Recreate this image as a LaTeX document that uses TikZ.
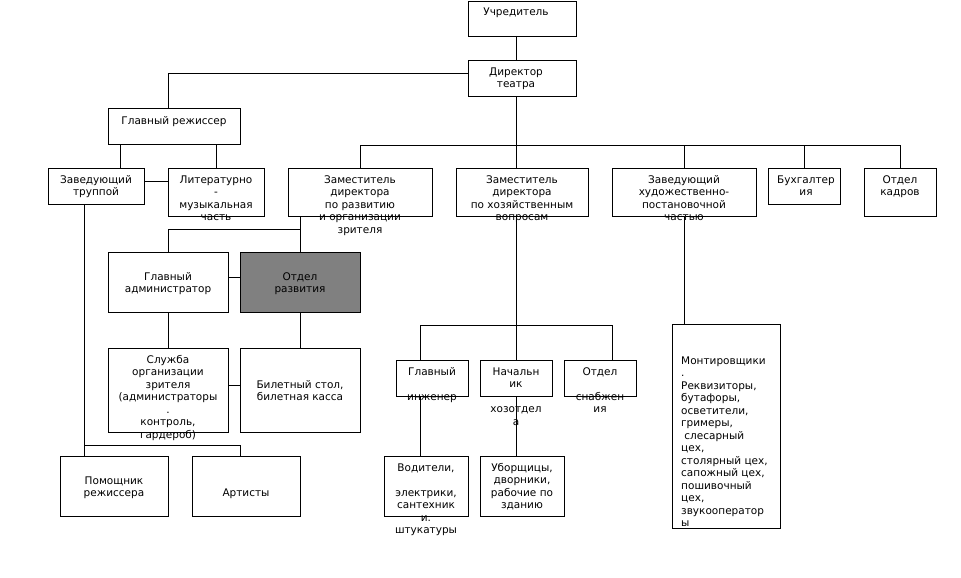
\documentclass[tikz,border=0pt]{standalone}
\usepackage{fontspec}
\setmainfont{DejaVu Sans}
\definecolor{grayfill}{HTML}{808080}
\tikzset{
  box/.style={draw=black, line width=0.9pt, inner sep=0pt, outer sep=0pt, fill=white},
  graybox/.style={fill=grayfill},
  txt/.style={font=\fontsize{10.5}{12.5}\selectfont, inner sep=0pt, anchor=base},
  ltxt/.style={txt, anchor=base west},
  conn/.style={draw=black, line width=0.9pt}
}
\newcommand{\bx}[6][]{\node[box,#1,minimum width={(#5-#3)*1pt},minimum height={(#6-#4)*1pt}] (#2) at ({(#3+#5)/2},{(#4+#6)/2}) {};}
\newcommand{\ml}[1]{\begin{tabular}[t]{@{}c@{}}#1\end{tabular}}
\newcommand{\mll}[1]{\begin{tabular}[t]{@{}l@{}}#1\end{tabular}}
\begin{document}
\begin{tikzpicture}[x=1pt,y=-1pt]
\useasboundingbox[fill=white] (0,0) rectangle (961,578);
\coordinate (c-d) at (468,73);
\coordinate (c-gr) at (168,108);
\coordinate (bus) at (516,145);
\coordinate (bus-l) at (360,145);
\coordinate (bus-r) at (900,145);
\coordinate (c-zr) at (300,229);
\coordinate (c-ga) at (168,252);
\coordinate (c-zt) at (84,445);
\coordinate (c-art) at (240,445);
\coordinate (bus2) at (516,325);
\coordinate (bus2-l) at (420,325);
\coordinate (bus2-r) at (612,325);

% boxes
\bx{u}{468}{1}{576}{36}
\bx{d}{468}{60}{576}{96}
\bx{gr}{108}{108}{240}{144}
\bx{zt}{48}{168}{144}{204}
\bx{lit}{168}{168}{264}{216}
\bx{zr}{288}{168}{432}{216}
\bx{zh}{456}{168}{588}{216}
\bx{zhud}{612}{168}{756}{216}
\bx{buh}{768}{168}{840}{204}
\bx{ok}{864}{168}{936}{216}
\bx{ga}{108}{252}{228}{312}
\bx[graybox]{otd}{240}{252}{360}{312}
\bx{sl}{108}{348}{228}{432}
\bx{bil}{240}{348}{360}{432}
\bx{pom}{60}{456}{168}{516}
\bx{art}{192}{456}{300}{516}
\bx{gi}{396}{360}{468}{396}
\bx{nach}{480}{360}{552}{396}
\bx{os}{564}{360}{636}{396}
\bx{vod}{384}{456}{468}{516}
\bx{ub}{480}{456}{564}{516}
\bx{mont}{672}{324}{780}{528}

% connectors
\draw[conn] (u.south -| bus) -- (d.north -| bus);
\draw[conn] (c-d) -- (c-gr |- c-d) -- (c-gr);
\draw[conn] (d.south -| bus) -- (bus);
\draw[conn] (bus-l) -- (bus-r);
\draw[conn] (bus-l) -- (zr.north);
\draw[conn] (bus) -- (zh.north -| bus);
\draw[conn] (bus -| zhud.north) -- (zhud.north);
\draw[conn] (bus -| buh.north) -- (buh.north);
\draw[conn] (bus-r) -- (ok.north);
\draw[conn] (gr.south -| 120,0) -- (zt.north -| 120,0);
\draw[conn] (gr.south -| lit.north) -- (lit.north);
\draw[conn] (zt.east |- 0,181) -- (lit.west |- 0,181);
\draw[conn] (zr.south -| otd.north) -- (otd.north);
\draw[conn] (c-zr) -- (c-ga |- c-zr) -- (c-ga);
\draw[conn] (ga.east |- 0,277) -- (otd.west |- 0,277);
\draw[conn] (ga.south) -- (sl.north);
\draw[conn] (otd.south) -- (bil.north);
\draw[conn] (sl.east |- 0,385) -- (bil.west |- 0,385);
\draw[conn] (zt.south -| c-zt) -- (pom.north -| c-zt);
\draw[conn] (c-zt) -- (c-art) -- (art.north -| c-art);
\draw[conn] (zh.south -| bus2) -- (bus2);
\draw[conn] (bus2) -- (nach.north);
\draw[conn] (bus2-l) -- (bus2-r);
\draw[conn] (bus2-l) -- (gi.north -| bus2-l);
\draw[conn] (bus2-r) -- (os.north -| bus2-r);
\draw[conn] (gi.south -| bus2-l) -- (vod.north -| bus2-l);
\draw[conn] (nach.south) -- (ub.north -| nach.south);
\draw[conn] (zhud.south) -- (mont.north -| zhud.south);

% texts
\node[txt] (t-u) at (516,16) {Учредитель};
\node[txt] (t-d) at (516,75) {\ml{Директор\\театра}};
\node[txt] (t-gr) at (174,124) {Главный режиссер};
\node[txt] (t-zt) at (96,183) {\ml{Заведующий\\труппой}};
\node[txt] (t-lit) at (216,183) {\ml{Литературно\\-\\музыкальная\\часть}};
\node[txt] (t-zr) at (360,183) {\ml{Заместитель\\директора\\по развитию\\и организации\\зрителя}};
\node[txt] (t-zh) at (522,183) {\ml{Заместитель\\директора\\по хозяйственным\\вопросам}};
\node[txt] (t-zhud) at (684,183) {\ml{Заведующий\\художественно-\\постановочной\\частью}};
\node[txt] (t-buh) at (806,183) {\ml{Бухгалтер\\ия}};
\node[txt] (t-ok) at (900,183) {\ml{Отдел\\кадров}};
\node[txt] (t-ga) at (168,280) {\ml{Главный\\администратор}};
\node[txt] (t-otd) at (300,280) {\ml{Отдел\\развития}};
\node[txt] (t-sl) at (168,363) {\ml{Служба\\организации\\зрителя\\(администраторы\\.\\контроль,\\гардероб)}};
\node[txt] (t-bil) at (300,388) {\ml{Билетный стол,\\билетная касса}};
\node[txt] (t-pom) at (114,484) {\ml{Помощник\\режиссера}};
\node[txt] (t-art) at (246,496) {Артисты};
\node[txt] (t-gi) at (432,375) {\ml{Главный\\~\\инженер}};
\node[txt] (t-nach) at (516,375) {\ml{Начальн\\ик\\~\\хозотдел\\а}};
\node[txt] (t-os) at (600,375) {\ml{Отдел\\~\\снабжен\\ия}};
\node[txt] (t-vod) at (426,471) {\ml{Водители,\\~\\электрики,\\сантехник\\и.\\штукатуры}};
\node[txt] (t-ub) at (522,471) {\ml{Уборщицы,\\дворники,\\рабочие по\\зданию}};
\node[ltxt] (t-mont) at (681,364) {\mll{Монтировщики\\.\\Реквизиторы,\\бутафоры,\\осветители,\\гримеры,\\\hspace*{0.3em}слесарный\\цех,\\столярный цех,\\сапожный цех,\\пошивочный\\цех,\\звукооператор\\ы}};
\end{tikzpicture}
\end{document}
